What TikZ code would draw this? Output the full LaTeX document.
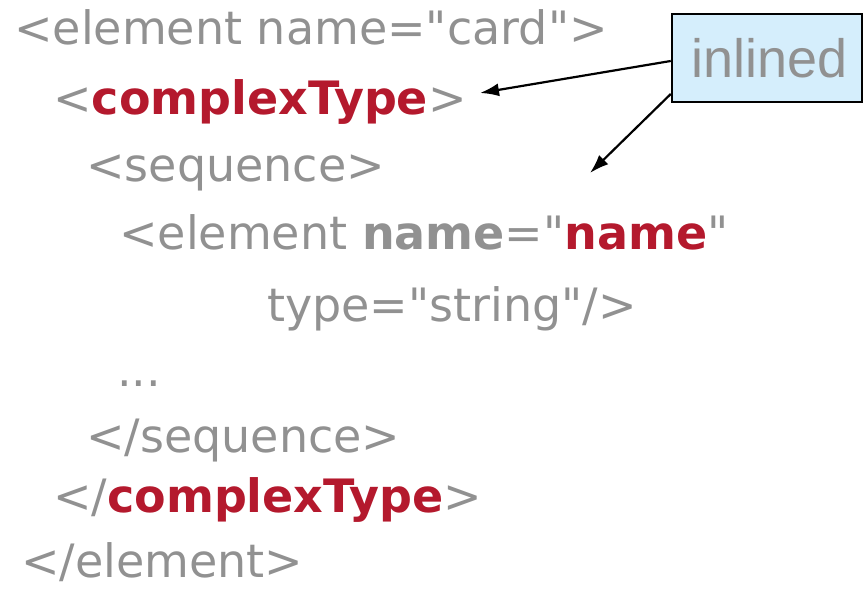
\documentclass[tikz,border=0pt]{standalone}
\usepackage{fontspec}
\setmainfont{DejaVu Sans}[Ligatures=TeXOff]
\newfontfamily\notefont{Liberation Sans}
\usetikzlibrary{arrows.meta}

\definecolor{codegray}{HTML}{919191}
\definecolor{keyred}{HTML}{B4192D}
\definecolor{notefill}{HTML}{D5EEFC}

\newcommand{\kw}[1]{\textcolor{keyred}{\textbf{#1}}}
\newcommand{\attr}[1]{\textbf{#1}}

\begin{document}
\begin{tikzpicture}[x=1pt, y=-1pt,
    code/.style={anchor=base west, inner sep=0pt, text=codegray, font=\fontsize{46}{55}\selectfont},
    note/.style={draw, line width=2.5pt, fill=notefill, minimum width=190pt, minimum height=88pt,
                 text=codegray, font=\notefont\fontsize{54}{60}\selectfont},
    arr/.style={-{Latex[length=19pt, width=13pt]}, line width=2.2pt},
]
\useasboundingbox (0,0) rectangle (863,593);

\node[code] (elopen)  at ( 14,  45) {<element name="card">};
\node[code] (ctopen)  at ( 53, 115) {<\kw{complexType}>};
\node[code] (sqopen)  at ( 86, 182) {<sequence>};
\node[code] (inner)   at (119, 250) {<element \attr{name}="\kw{name}"};
\node[code] (intype)  at (267, 322) {type="string"/>};
\node[code] (dots)    at (117, 387) {...};
\node[code] (sqclose) at ( 86, 453) {</sequence>};
\node[code] (ctclose) at ( 53, 513) {</\kw{complexType}>};
\node[code] (elclose) at ( 21, 578) {</element>};

% callout
\node[note] (inlined) at (767, 58) {\hspace{6pt}inlined};

\coordinate (ctmark)  at (480,  93);
\coordinate (seqmark) at (590, 173);

% callout -> complexType, sequence
\draw[arr] ([yshift=-3pt]inlined.west) -- (ctmark);
\draw[arr] ([yshift=-36pt]inlined.west) -- (seqmark);

\end{tikzpicture}
\end{document}
